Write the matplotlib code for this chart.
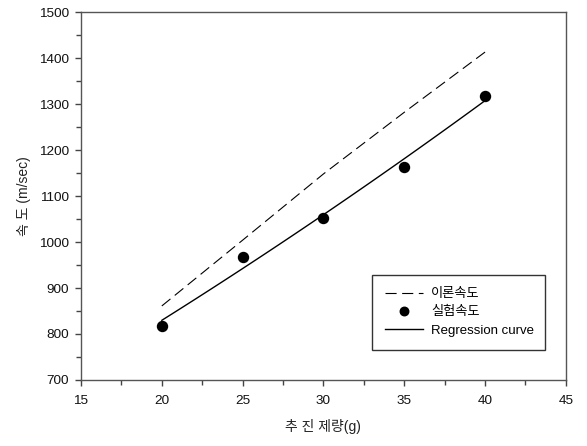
import numpy as np
import matplotlib
matplotlib.use("Agg")
import matplotlib.pyplot as plt
from matplotlib.ticker import MultipleLocator

plt.rcParams['font.family'] = ['Liberation Sans', 'Noto Sans CJK KR', 'DejaVu Sans']

# propellant mass (g)
charge_g = [20, 25, 30, 35, 40]
# theoretical velocity (m/sec)
theory_v = [861, 1004, 1148, 1282, 1413]
# measured velocity (m/sec)
measured_v = [818, 968, 1053, 1164, 1317]

x_ticks = [15, 20, 25, 30, 35, 40, 45]
y_ticks = [700, 800, 900, 1000, 1100, 1200, 1300, 1400, 1500]

fig = plt.figure(figsize=(5.87, 4.46), dpi=100)
ax = fig.add_axes([0.138, 0.148, 0.826, 0.825])

# second-order regression through the measured points
coef = np.polyfit(charge_g, measured_v, 2)
xs = np.linspace(min(charge_g), max(charge_g), 100)
ys = np.polyval(coef, xs)

ax.plot(charge_g, theory_v, color='black', lw=0.8, linestyle=(0, (10, 5)),
        label='이론속도')
ax.plot(charge_g, measured_v, 'o', color='black', markersize=7.2, label='실험속도')
ax.plot(xs, ys, color='black', lw=1.0, label='Regression curve')

ax.set_xlim(15, 45)
ax.set_ylim(700, 1500)
ax.set_xticks(x_ticks)
ax.set_yticks(y_ticks)
ax.xaxis.set_minor_locator(MultipleLocator(2.5))
ax.yaxis.set_minor_locator(MultipleLocator(50))

for s in ax.spines.values():
    s.set_color('#555555')
    s.set_linewidth(1.0)

ax.tick_params(which='both', direction='out', color='#444444', width=1.0,
               top=False, right=False, labelsize=9.7, labelcolor='#111111')
ax.tick_params(which='major', length=4.5)
ax.tick_params(axis='x', which='major', pad=6)
ax.tick_params(axis='y', which='major', pad=4)
ax.tick_params(which='minor', length=3.5)

ax.set_xlabel('추 진 제량(g)', fontsize=10, color='#222222', labelpad=9)
ax.set_ylabel('속 도 (m/sec)', fontsize=10, color='#222222', labelpad=6)

leg = ax.legend(loc='lower left', bbox_to_anchor=(0.60, 0.082, 0.357, 0.206),
                mode='expand', fontsize=9.5, frameon=True, fancybox=False,
                handlelength=2.9, borderaxespad=0, borderpad=1.0,
                labelspacing=0.45, handletextpad=0.6, markerscale=0.85)
leg.get_frame().set_edgecolor('black')
leg.get_frame().set_linewidth(1.0)

fig.savefig('out.png', dpi=100)
